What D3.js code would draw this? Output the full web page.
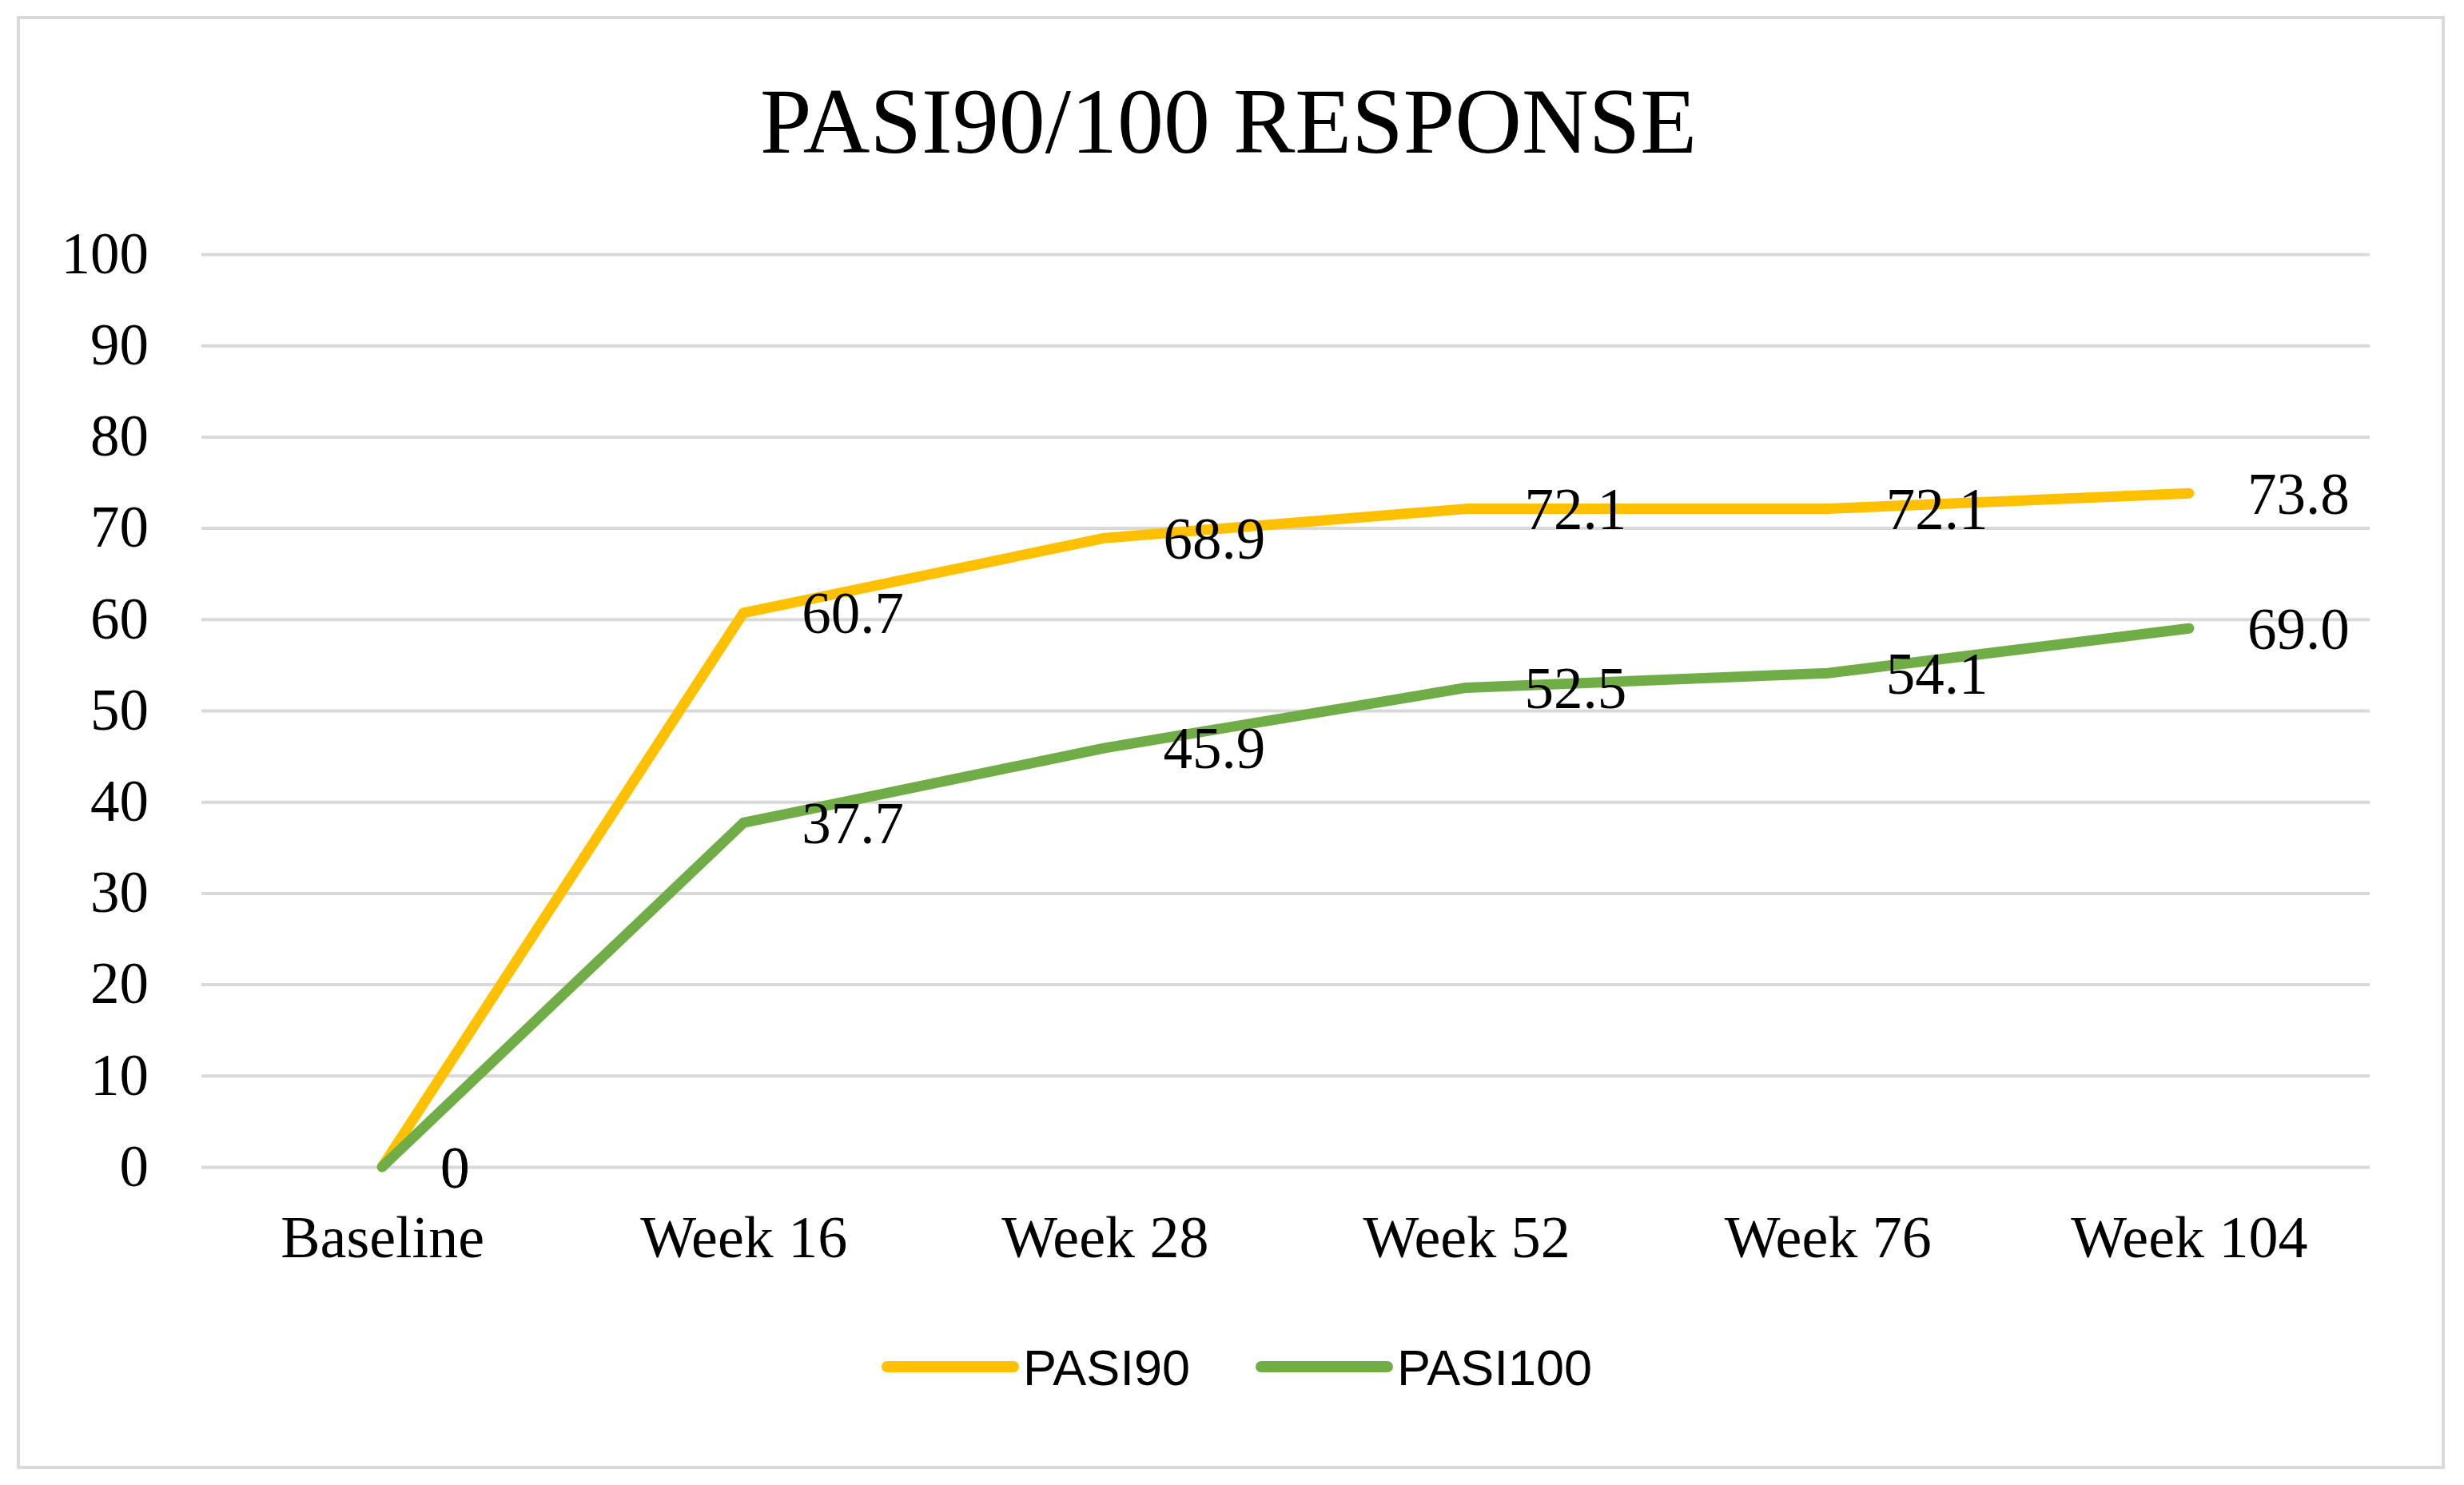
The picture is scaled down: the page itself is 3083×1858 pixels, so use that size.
<!DOCTYPE html>
<html>
<head>
<meta charset="utf-8">
<script src="https://cdn.jsdelivr.net/npm/d3@7"></script>
<style>
  body { margin: 0; background: #fff; }
  text { fill: #000; }
</style>
</head>
<body>
<div class="canvas"></div>
<script>
// chart data
const categories = ['Baseline', 'Week 16', 'Week 28', 'Week 52', 'Week 76', 'Week 104'];
const pasi90 = [0, 60.7, 68.9, 72.1, 72.1, 73.8];
const pasi100 = [0, 37.7, 45.9, 52.5, 54.1, 59.0];
// labels as printed in the source (last PASI100 label reads 69.0)
const pasi90Labels = ['0', '60.7', '68.9', '72.1', '72.1', '73.8'];
const pasi100Labels = ['0', '37.7', '45.9', '52.5', '54.1', '69.0'];
const yTicks = [0, 10, 20, 30, 40, 50, 60, 70, 80, 90, 100];

const dims = { width: 3083, height: 1858 };
const plot = { left: 252, right: 2965, top: 318, bottom: 1460 };
const serif = '"Liberation Serif", "Times New Roman", serif';

const svg = d3.select('.canvas')
    .append('svg')
    .attr('width', dims.width)
    .attr('height', dims.height);

// outer frame
svg.append('rect')
    .attr('x', 23).attr('y', 22)
    .attr('width', 3034).attr('height', 1814)
    .attr('fill', '#fff')
    .attr('stroke', '#d9d9d9')
    .attr('stroke-width', 4);

svg.append('text')
    .attr('x', 1537).attr('y', 191)
    .attr('text-anchor', 'middle')
    .style('font-family', serif)
    .style('font-size', '116px')
    .text('PASI90/100 RESPONSE');

const x = d3.scalePoint()
    .domain(categories)
    .range([plot.left, plot.right])
    .padding(0.5);

const y = d3.scaleLinear()
    .domain([0, 100])
    .range([plot.bottom, plot.top]);

// y axis with gridlines
const yAxis = svg.append('g')
    .attr('transform', `translate(${plot.left}, 0)`)
    .call(d3.axisLeft(y).tickValues(yTicks).tickSize(-(plot.right - plot.left)).tickPadding(66));

yAxis.select('.domain').remove();
yAxis.selectAll('.tick line')
    .attr('stroke', '#d9d9d9')
    .attr('stroke-width', 4);
yAxis.selectAll('.tick text')
    .style('font-family', serif)
    .style('font-size', '73px');

// x axis labels
const xAxis = svg.append('g')
    .attr('transform', `translate(0, ${plot.bottom})`)
    .call(d3.axisBottom(x).tickSize(0).tickPadding(60));

xAxis.select('.domain').remove();
xAxis.selectAll('.tick text')
    .style('font-family', serif)
    .style('font-size', '74px');

const series = [
    { name: 'PASI90', values: pasi90, labels: pasi90Labels, color: '#FFC000' },
    { name: 'PASI100', values: pasi100, labels: pasi100Labels, color: '#70AD47' }
];

const line = d3.line()
    .x((d, i) => x(categories[i]))
    .y(d => y(d));

series.forEach(s => {
    svg.append('path')
        .attr('d', line(s.values))
        .attr('fill', 'none')
        .attr('stroke', s.color)
        .attr('stroke-width', 13)
        .attr('stroke-linecap', 'round')
        .attr('stroke-linejoin', 'round');
});

// data labels, to the right of each point
series.forEach(s => {
    svg.append('g')
        .selectAll('text')
        .data(s.values)
        .enter()
        .append('text')
            .attr('x', (d, i) => x(categories[i]) + 73)
            .attr('y', d => y(d))
            .attr('dy', '0.35em')
            .style('font-family', serif)
            .style('font-size', '73px')
            .text((d, i) => s.labels[i]);
});

// legend
const legend = svg.append('g');
const legendX = [1110, 1578];
series.forEach((s, i) => {
    legend.append('line')
        .attr('x1', legendX[i]).attr('x2', legendX[i] + 158)
        .attr('y1', 1710).attr('y2', 1710)
        .attr('stroke', s.color)
        .attr('stroke-width', 14)
        .attr('stroke-linecap', 'round');
    legend.append('text')
        .attr('x', legendX[i] + 170)
        .attr('y', 1710)
        .attr('dy', '0.36em')
        .style('font-family', '"Liberation Sans", Arial, sans-serif')
        .style('font-size', '63px')
        .text(s.name);
});
</script>
</body>
</html>
